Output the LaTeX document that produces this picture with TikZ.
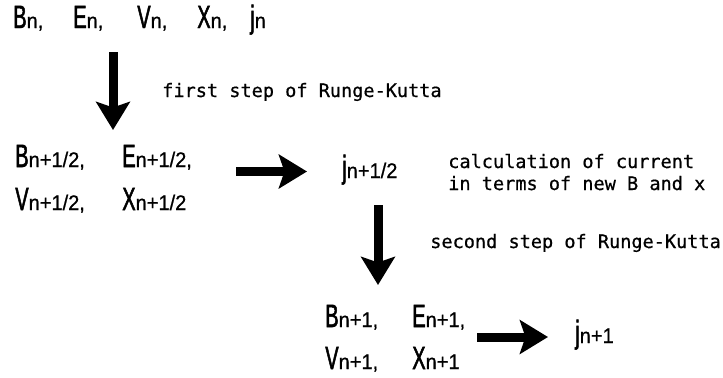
\documentclass[tikz,border=0pt]{standalone}
\usepackage{fontspec}
\usetikzlibrary{arrows.meta}
\newfontfamily\varfont[FakeStretch=0.62, FakeBold=1.5]{Liberation Sans}
\newfontfamily\subfont[FakeStretch=0.95, FakeBold=0.8]{Liberation Sans}
\newfontfamily\notefont[FakeBold=0.6]{DejaVu Sans Mono}
\newcommand{\sbs}[1]{{\subfont\fontsize{15}{15}\selectfont #1}}
\tikzset{var/.style={anchor=base west, inner sep=0pt, font=\varfont\fontsize{23}{26}\selectfont}}
\tikzset{note/.style={anchor=base west, inner sep=0pt, font=\notefont\fontsize{13.2}{15}\selectfont}}
\tikzset{bigarrow/.style={line width=6.4pt, -{Stealth[length=20pt, width=24pt, inset=4pt]}}}

\begin{document}
\begin{tikzpicture}[x=0.025cm, y=-0.025cm]
            \useasboundingbox (0,0) rectangle (723,377);
            % step n
            \node[var] (Bn) at (13,28) {B\sbs{n,}};
            \node[var] (En) at (73,28) {E\sbs{n,}};
            \node[var] (vn) at (137,28) {V\sbs{n,}};
            \node[var] (xn) at (197,28) {X\sbs{n,}};
            \node[var] (jn) at (250,28) {j\sbs{n}};
            % half step
            \node[var] (Bh) at (15,167) {B\sbs{n+1/2,}};
            \node[var] (Eh) at (122,167) {E\sbs{n+1/2,}};
            \node[var] (vh) at (15,210) {V\sbs{n+1/2,}};
            \node[var] (xh) at (122,210) {X\sbs{n+1/2}};
            \node[var] (jh) at (342,178) {j\sbs{n+1/2}};
            % full step
            \node[var] (Bf) at (325,327) {B\sbs{n+1,}};
            \node[var] (Ef) at (412,327) {E\sbs{n+1,}};
            \node[var] (vf) at (325,369) {V\sbs{n+1,}};
            \node[var] (xf) at (412,369) {X\sbs{n+1}};
            \node[var] (jf) at (575,343) {j\sbs{n+1}};
            % notes
            \node[note] (rk1) at (162,97) {first step of Runge-Kutta};
            \node[note] (cur1) at (448,168) {calculation of current};
            \node[note] (cur2) at (448,190) {in terms of new B and x};
            \node[note] (rk2) at (430,248) {second step of Runge-Kutta};
            % arrows
            \coordinate (a1s) at (113,52);
            \coordinate (a1e) at (113,130);
            \coordinate (a2s) at (236,171.5);
            \coordinate (a2e) at (307,171.5);
            \coordinate (a3s) at (378,205);
            \coordinate (a3e) at (378,285);
            \coordinate (a4s) at (477,337);
            \coordinate (a4e) at (548,337);
            \draw[bigarrow] (a1s) -- (a1e);
            \draw[bigarrow] (a2s) -- (a2e);
            \draw[bigarrow] (a3s) -- (a3e);
            \draw[bigarrow] (a4s) -- (a4e);
        \end{tikzpicture}
\end{document}
